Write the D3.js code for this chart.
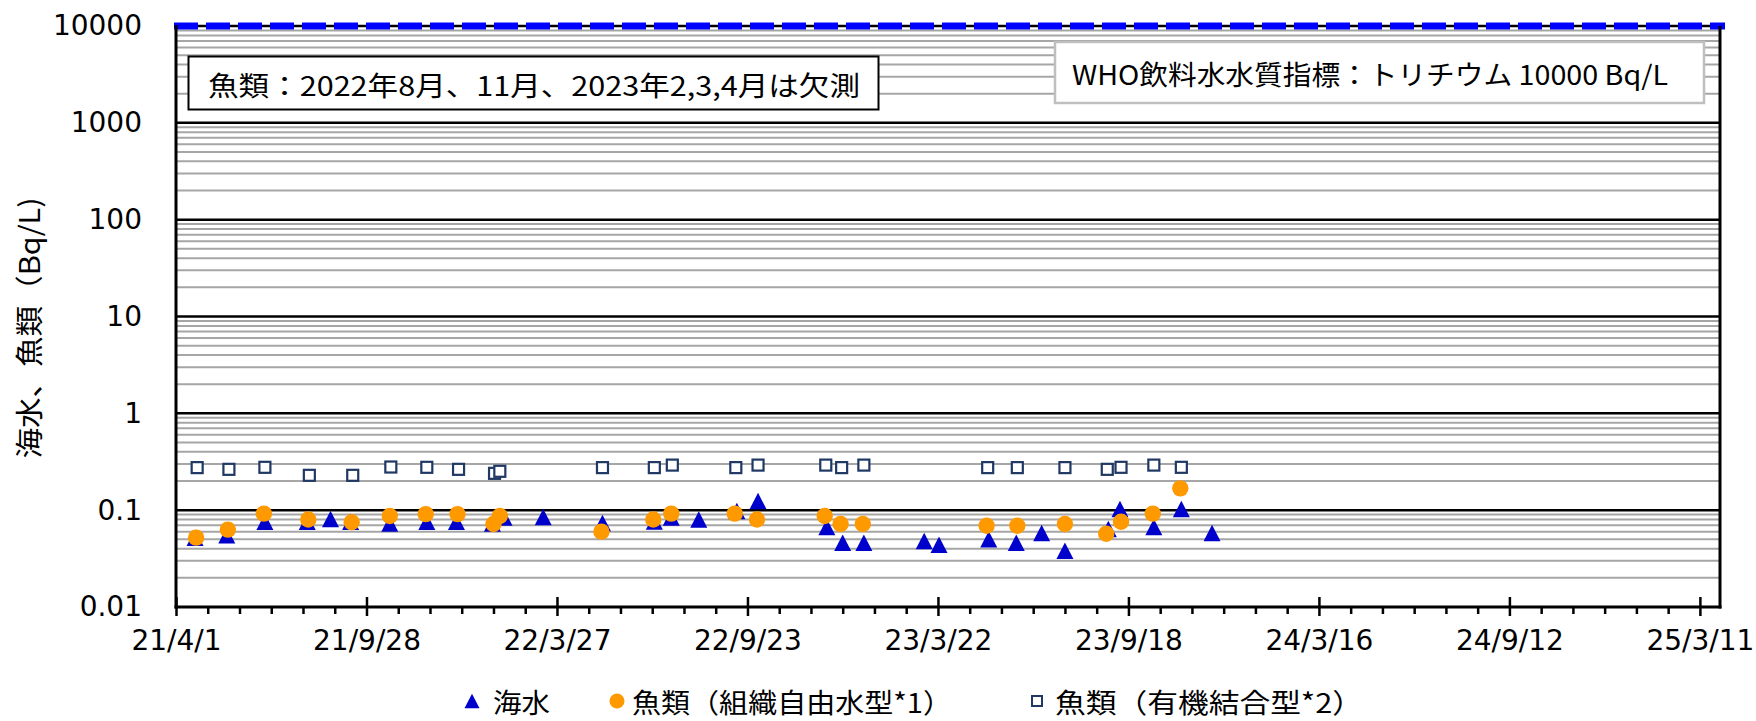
<!DOCTYPE html>
<html><head><meta charset="utf-8">
<script src="https://cdn.jsdelivr.net/npm/d3@7"></script>
<style>body{margin:0;background:#fff}svg{display:block}</style>
</head><body>
<svg id="c" width="1756" height="721"></svg>
<script>
// ---- data ----
const seawaterDates = ["2021-04-19","2021-05-19","2021-06-24","2021-08-03","2021-08-25","2021-09-13","2021-10-20","2021-11-24","2021-12-22",
  "2022-01-25","2022-02-05","2022-03-14","2022-05-09","2022-06-27","2022-07-13","2022-08-08","2022-09-13","2022-10-03","2022-12-07","2022-12-22",
  "2023-01-11","2023-03-09","2023-03-23","2023-05-09","2023-06-04","2023-06-28","2023-07-20","2023-08-30","2023-09-10","2023-10-12","2023-11-07","2023-12-06"];
const seawaterValues = [0.052,0.055,0.076,0.076,0.081,0.076,0.073,0.076,0.076,
  0.073,0.084,0.085,0.0735,0.0765,0.084,0.080,0.098,0.124,0.067,0.046,
  0.046,0.048,0.044,0.050,0.046,0.058,0.038,0.064,0.103,0.067,0.103,0.058];

const fishFreeDates = ["2021-04-20","2021-05-20","2021-06-23","2021-08-04","2021-09-14","2021-10-20","2021-11-23","2021-12-23",
  "2022-01-26","2022-02-01","2022-05-08","2022-06-26","2022-07-13","2022-09-11","2022-10-02","2022-12-05","2022-12-20",
  "2023-01-10","2023-05-07","2023-06-05","2023-07-20","2023-08-28","2023-09-11","2023-10-11","2023-11-06"];
const fishFreeValues = [0.052,0.063,0.092,0.080,0.075,0.087,0.091,0.091,
  0.072,0.087,0.060,0.080,0.092,0.092,0.080,0.087,0.072,
  0.072,0.069,0.069,0.072,0.057,0.076,0.092,0.168];

const fishOBTDates = ["2021-04-21","2021-05-21","2021-06-24","2021-08-05","2021-09-15","2021-10-21","2021-11-24","2021-12-24",
  "2022-01-27","2022-02-01","2022-05-09","2022-06-27","2022-07-14","2022-09-12","2022-10-03","2022-12-06","2022-12-21",
  "2023-01-11","2023-05-08","2023-06-05","2023-07-20","2023-08-29","2023-09-11","2023-10-12","2023-11-07"];
const fishOBTValues = [0.275,0.264,0.277,0.229,0.229,0.279,0.277,0.264,
  0.240,0.252,0.275,0.275,0.292,0.275,0.292,0.292,0.275,
  0.292,0.275,0.275,0.275,0.264,0.277,0.292,0.277];

const yTickValues = [0.01,0.1,1,10,100,1000,10000];
const yTickLabels = ["0.01","0.1","1","10","100","1000","10000"];
const xStart = "2021-04-01", xEnd = "2025-03-30";
const xMajorStepDays = 180, xMinorStepDays = 30;
const guidelineValue = 10000;
const legendLabels = ["海水","魚類（組織自由水型*1）","魚類（有機結合型*2）"];
const yTitle = "海水、魚類（Bq/L)";
const noteLeft = "魚類：2022年8月、11月、2023年2,3,4月は欠測";
const noteRight = "WHO飲料水水質指標：トリチウム 10000 Bq/L";

// ---- setup ----
const parse = d3.utcParse("%Y-%m-%d");
const svg = d3.select("#c");
const L = 176, R = 1720, T = 26, B = 607;
const x = d3.scaleUtc().domain([parse(xStart), parse(xEnd)]).range([L, R]);
const y = d3.scaleLog().domain([0.01, 10000]).range([B, T]);
const CJK = "'Noto Sans CJK JP', sans-serif";
const NUM = "'DejaVu Sans', sans-serif";

// gridlines
const minor = [];
for (let e = -2; e < 4; e++) for (let k = 2; k <= 9; k++) minor.push(k * Math.pow(10, e));
svg.append("g").selectAll("line").data(minor).join("line")
  .attr("x1", L).attr("x2", R).attr("y1", d => y(d)).attr("y2", d => y(d))
  .attr("stroke", "#a6a6a6").attr("stroke-width", 2);
svg.append("g").selectAll("line").data(yTickValues.slice(1)).join("line")
  .attr("x1", L).attr("x2", R).attr("y1", d => y(d)).attr("y2", d => y(d))
  .attr("stroke", "#000").attr("stroke-width", 2.5);

// guideline dashed
svg.append("line").attr("x1", L - 2).attr("x2", R + 5)
  .attr("y1", y(guidelineValue)).attr("y2", y(guidelineValue))
  .attr("stroke", "#0000ff").attr("stroke-width", 7).attr("stroke-dasharray", "24,8");

// note boxes
svg.append("rect").attr("x", 188.5).attr("y", 56.5).attr("width", 690).attr("height", 53)
  .attr("fill", "#fff").attr("stroke", "#000").attr("stroke-width", 2);
svg.append("text").attr("x", 208).attr("y", 84).attr("dominant-baseline", "central")
  .attr("font-family", CJK).attr("font-size", 27).attr("textLength", 652).attr("lengthAdjust", "spacingAndGlyphs")
  .text(noteLeft);
svg.append("rect").attr("x", 1055).attr("y", 42).attr("width", 649).attr("height", 61)
  .attr("fill", "#fff").attr("stroke", "#bfbfbf").attr("stroke-width", 2.5);
svg.append("text").attr("x", 1072).attr("y", 73).attr("dominant-baseline", "central")
  .attr("font-family", CJK).attr("font-size", 27).attr("textLength", 596).attr("lengthAdjust", "spacingAndGlyphs")
  .text(noteRight);

// axes
const start = parse(xStart);
const majorTicks = d3.range(0, 1441, xMajorStepDays).map(d => d3.utcDay.offset(start, d));
const minorTicks = d3.range(0, 1459, xMinorStepDays).filter(d => d % xMajorStepDays !== 0).map(d => d3.utcDay.offset(start, d));
const fmt = d3.utcFormat("%y/%-m/%-d");

const gx = svg.append("g").attr("transform", `translate(0,${B})`)
  .call(d3.axisBottom(x).tickValues(majorTicks).tickFormat(fmt).tickSize(9).tickPadding(14));
gx.select(".domain").remove();
gx.selectAll(".tick line").attr("y1", -10).attr("stroke-width", 2.5);
gx.selectAll("text").attr("font-family", NUM).attr("font-size", 28).attr("fill", "#000");
svg.append("g").attr("transform", `translate(0,${B})`)
  .call(d3.axisBottom(x).tickValues(minorTicks).tickFormat("").tickSize(7))
  .call(g => g.select(".domain").remove())
  .selectAll(".tick line").attr("stroke-width", 2.5);

const gy = svg.append("g").attr("transform", `translate(${L},0)`)
  .call(d3.axisLeft(y).tickValues(yTickValues).tickFormat((d, i) => yTickLabels[i]).tickSize(0).tickPadding(34));
gy.select(".domain").remove();
gy.selectAll("text").attr("font-family", NUM).attr("font-size", 28).attr("fill", "#000");

// frame lines
svg.append("line").attr("x1", L).attr("x2", L).attr("y1", T - 1).attr("y2", B + 1.5).attr("stroke", "#000").attr("stroke-width", 3);
svg.append("line").attr("x1", R).attr("x2", R).attr("y1", T).attr("y2", B + 1.5).attr("stroke", "#000").attr("stroke-width", 3);
svg.append("line").attr("x1", L - 1.5).attr("x2", R + 1.5).attr("y1", B).attr("y2", B).attr("stroke", "#000").attr("stroke-width", 3);

// y title
svg.append("text").attr("transform", `translate(28,328) rotate(-90)`)
  .attr("text-anchor", "middle").attr("dominant-baseline", "central")
  .attr("font-family", CJK).attr("font-size", 28).attr("textLength", 261).attr("lengthAdjust", "spacingAndGlyphs")
  .text(yTitle);

// markers
const tri = (cx, cy, w, h) => `M${cx},${cy - h / 2}L${cx + w / 2},${cy + h / 2}L${cx - w / 2},${cy + h / 2}Z`;
const sea = seawaterDates.map((d, i) => ({ date: parse(d), v: seawaterValues[i] }));
const free = fishFreeDates.map((d, i) => ({ date: parse(d), v: fishFreeValues[i] }));
const obt = fishOBTDates.map((d, i) => ({ date: parse(d), v: fishOBTValues[i] }));

svg.append("g").selectAll("path").data(sea).join("path")
  .attr("d", d => tri(x(d.date), y(d.v), 17, 16.5)).attr("fill", "#0000cc");
svg.append("g").selectAll("circle").data(free).join("circle")
  .attr("cx", d => x(d.date)).attr("cy", d => y(d.v)).attr("r", 8.2).attr("fill", "#ff9900");
svg.append("g").selectAll("rect").data(obt).join("rect")
  .attr("x", d => x(d.date) - 5.5).attr("y", d => y(d.v) - 5.5).attr("width", 11).attr("height", 11)
  .attr("fill", "#fff").attr("stroke", "#1f3864").attr("stroke-width", 2.2);

// legend
const ly = 701;
const leg = svg.append("g");
leg.append("path").attr("d", tri(472, ly, 15, 14.5)).attr("fill", "#0000cc");
leg.append("circle").attr("cx", 617).attr("cy", ly).attr("r", 7.5).attr("fill", "#ff9900");
leg.append("rect").attr("x", 1032).attr("y", ly - 5).attr("width", 10).attr("height", 10)
  .attr("fill", "#fff").attr("stroke", "#1f3864").attr("stroke-width", 2);
const legX = [493, 632, 1055], legW = [57, 320, 308];
leg.selectAll("text").data(legendLabels).join("text")
  .attr("x", (d, i) => legX[i]).attr("y", ly).attr("dominant-baseline", "central")
  .attr("font-family", CJK).attr("font-size", 27).attr("fill", "#000")
  .attr("textLength", (d, i) => legW[i]).attr("lengthAdjust", "spacingAndGlyphs")
  .text(d => d);
</script>
</body></html>
